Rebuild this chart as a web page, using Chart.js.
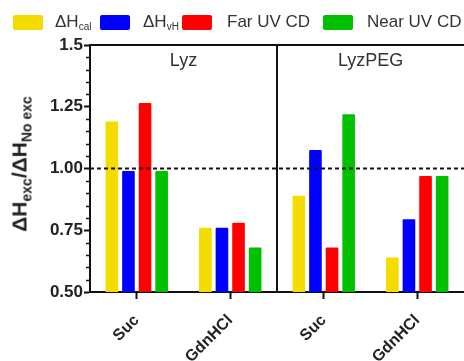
<!DOCTYPE html>
<html>
<head>
<meta charset="utf-8">
<script src="https://cdn.jsdelivr.net/npm/chart.js@4/dist/chart.umd.min.js"></script>
<style>
  body { margin: 0; background: #fff; font-family: "Liberation Sans", Arial, sans-serif; }
  #wrap { position: relative; width: 464px; height: 361px; overflow: hidden; }
  .leg { position: absolute; top: 13px; height: 18px; font-size: 17px; color: #333; white-space: nowrap; line-height: 18px; }
  .box { position: absolute; top: 15px; width: 30px; height: 15px; border-radius: 2px; }
  .leg sub { font-size: 10px; vertical-align: -3px; }
  #ytitle { position: absolute; left: 21px; top: 164px; transform: translate(-50%, -50%) rotate(-90deg);
    font-weight: bold; font-size: 21px; color: #222; white-space: nowrap; }
  #ytitle sub { font-size: 14px; vertical-align: -5px; }
</style>
</head>
<body>
<div id="wrap">
  <canvas id="grafico" width="464" height="361"></canvas>
  <div class="box" style="left:13px;background:rgb(245,220,0)"></div>
  <div class="leg" style="left:55px">ΔH<sub>cal</sub></div>
  <div class="box" style="left:100px;background:rgb(0,0,255)"></div>
  <div class="leg" style="left:143px">ΔH<sub>vH</sub></div>
  <div class="box" style="left:182px;background:rgb(255,0,0)"></div>
  <div class="leg" style="left:227px">Far UV CD</div>
  <div class="box" style="left:323px;background:rgb(0,192,0)"></div>
  <div class="leg" style="left:367px">Near UV CD</div>
  <div id="ytitle">ΔH<sub>exc</sub>/ΔH<sub>No exc</sub></div>
</div>
<script>
const categorias = ["Suc", "GdnHCl", "Suc", "GdnHCl"];
const paineis = ["Lyz", "LyzPEG"];
const dHcal = [1.19, 0.76, 0.89, 0.64];
const dHvH = [0.99, 0.76, 1.075, 0.795];
const farUV = [1.265, 0.78, 0.68, 0.97];
const nearUV = [0.99, 0.68, 1.22, 0.97];
const yLabels = { 0.5: "0.50", 0.75: "0.75", 1: "1.00", 1.25: "1.25", 1.5: "1.5" };

// frame, divider, reference line, panel names, minor ticks
const extras = {
  id: "extras",
  afterDatasetsDraw(chart) {
    const { ctx, chartArea: a, scales } = chart;
    const x = scales.x, y = scales.y;
    ctx.save();
    ctx.strokeStyle = "#111";
    ctx.lineWidth = 2;
    const y1 = y.getPixelForValue(1);
    ctx.setLineDash([4, 3]);
    ctx.beginPath();
    ctx.moveTo(a.left, y1);
    ctx.lineTo(a.right, y1);
    ctx.stroke();
    ctx.setLineDash([]);
    ctx.beginPath();
    ctx.moveTo(a.left, a.top);
    ctx.lineTo(a.right, a.top);
    const mid = (x.getPixelForValue(1) + x.getPixelForValue(2)) / 2;
    ctx.moveTo(mid, a.top);
    ctx.lineTo(mid, a.bottom);
    ctx.stroke();
    // minor ticks
    ctx.lineWidth = 1.5;
    ctx.beginPath();
    for (let i = 0; i <= 20; i++) {
      if (i % 5 === 0) continue;
      const py = Math.round(y.getPixelForValue(0.5 + i * 0.05)) + 0.5;
      ctx.moveTo(a.left - 4, py);
      ctx.lineTo(a.left, py);
    }
    ctx.stroke();
    ctx.fillStyle = "#333";
    ctx.font = "18px 'Liberation Sans', Arial";
    ctx.textAlign = "center";
    ctx.textBaseline = "middle";
    ctx.fillText(paineis[0], (a.left + mid) / 2, a.top + 16);
    ctx.fillText(paineis[1], (mid + x.getPixelForValue(3) + 47) / 2, a.top + 16);
    ctx.restore();
  }
};

new Chart(document.getElementById("grafico"), {
  type: "bar",
  data: {
    labels: categorias,
    datasets: [
      { label: "ΔHcal", data: dHcal, backgroundColor: "rgb(245,220,0)" },
      { label: "ΔHvH", data: dHvH, backgroundColor: "rgb(0,0,255)" },
      { label: "Far UV CD", data: farUV, backgroundColor: "rgb(255,0,0)" },
      { label: "Near UV CD", data: nearUV, backgroundColor: "rgb(0,192,0)" }
    ]
  },
  options: {
    responsive: false,
    animation: false,
    layout: { padding: { top: 45, left: 0, right: 0, bottom: 0 } },
    datasets: { bar: { categoryPercentage: 0.71, barPercentage: 0.76, borderRadius: 1 } },
    plugins: { legend: { display: false }, tooltip: { enabled: false } },
    scales: {
      x: {
        afterFit: (s) => { s.height = 69; },
        border: { color: "#111", width: 2 },
        grid: { drawOnChartArea: false, offset: false, tickLength: 7, tickColor: "#111", tickWidth: 2 },
        ticks: {
          minRotation: 45, maxRotation: 45, color: "#222", padding: 12,
          font: { family: "'Liberation Sans', Arial", size: 16, weight: "bold" }
        }
      },
      y: {
        min: 0.5, max: 1.5,
        afterFit: (s) => { s.width = 90; },
        border: { color: "#111", width: 2 },
        grid: { drawOnChartArea: false, tickLength: 6, tickColor: "#111", tickWidth: 2 },
        ticks: {
          stepSize: 0.25, color: "#222", padding: 1,
          font: { family: "'Liberation Sans', Arial", size: 17, weight: "bold" },
          callback: (v) => yLabels[v]
        }
      }
    }
  },
  plugins: [extras]
});
</script>
</body>
</html>
